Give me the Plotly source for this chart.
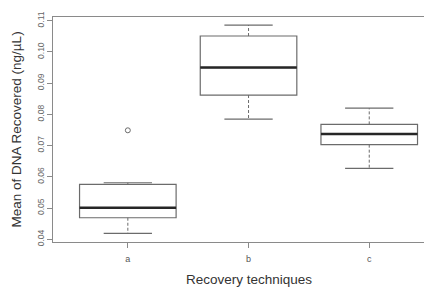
import plotly.graph_objects as go

# Data
categories = ["a", "b", "c"]
positions = [1, 2, 3]
q1 = [0.0469, 0.0862, 0.0703]
median = [0.0501, 0.0950, 0.0737]
q3 = [0.0576, 0.1051, 0.0768]
lower_whisker = [0.0419, 0.0785, 0.0627]
upper_whisker = [0.0581, 0.1086, 0.0820]
outlier_x = [1]
outlier_y = [0.0749]
y_ticks = [0.04, 0.05, 0.06, 0.07, 0.08, 0.09, 0.10, 0.11]
y_ticktext = ["0.04", "0.05", "0.06", "0.07", "0.08", "0.09", "0.10", "0.11"]

BOX_HALF = 0.4
CAP_HALF = 0.2
BOX_COLOR = "#6b6b6b"
MED_COLOR = "#262626"
FONT = "Liberation Sans, Arial, sans-serif"

fig = go.Figure()

# Boxes (whiskers drawn separately, R-style dashed)
for i, p in enumerate(positions):
    fig.add_trace(go.Box(
        x=[p], q1=[q1[i]], median=[median[i]], q3=[q3[i]],
        lowerfence=[q1[i]], upperfence=[q3[i]],
        width=2 * BOX_HALF, whiskerwidth=0,
        line=dict(color=BOX_COLOR, width=1.2),
        fillcolor="white", boxpoints=False, hoverinfo="skip",
        showlegend=False,
    ))

# Dashed whiskers
wx, wy = [], []
for i, p in enumerate(positions):
    wx += [p, p, None, p, p, None]
    wy += [q3[i], upper_whisker[i], None, q1[i], lower_whisker[i], None]
fig.add_trace(go.Scatter(x=wx, y=wy, mode="lines",
                         line=dict(color=BOX_COLOR, width=1, dash="3px,2px"),
                         hoverinfo="skip", showlegend=False))

# Whisker caps
cx, cy = [], []
for i, p in enumerate(positions):
    cx += [p - CAP_HALF, p + CAP_HALF, None, p - CAP_HALF, p + CAP_HALF, None]
    cy += [upper_whisker[i], upper_whisker[i], None, lower_whisker[i], lower_whisker[i], None]
fig.add_trace(go.Scatter(x=cx, y=cy, mode="lines",
                         line=dict(color=BOX_COLOR, width=1.2),
                         hoverinfo="skip", showlegend=False))

# Thick medians
mx, my = [], []
for i, p in enumerate(positions):
    mx += [p - BOX_HALF, p + BOX_HALF, None]
    my += [median[i], median[i], None]
fig.add_trace(go.Scatter(x=mx, y=my, mode="lines",
                         line=dict(color=MED_COLOR, width=2.6),
                         hoverinfo="skip", showlegend=False))

# Outlier
fig.add_trace(go.Scatter(x=outlier_x, y=outlier_y, mode="markers",
                         marker=dict(symbol="circle-open", size=5,
                                     color=BOX_COLOR, line=dict(width=1)),
                         hoverinfo="skip", showlegend=False))

# Figure sized to compensate for the page's default 8px body margin
fig.update_layout(
    width=424, height=279,
    margin=dict(l=45, r=0, t=9, b=45, autoexpand=False),
    paper_bgcolor="white", plot_bgcolor="white",
    font=dict(family=FONT, color="#444"),
    xaxis=dict(
        range=[0.38, 3.52], tickvals=positions, ticktext=categories,
        showgrid=False, zeroline=False, automargin=False,
        showline=True, linecolor="#8a8a8a", linewidth=1.2, mirror=True,
        ticks="outside", ticklen=5, tickcolor="#8a8a8a",
        ticklabelstandoff=3,
        tickfont=dict(size=9, color="#555"),
    ),
    yaxis=dict(
        range=[0.03913, 0.11119], tickvals=y_ticks, ticktext=y_ticktext,
        showgrid=False, zeroline=False, automargin=False,
        showline=True, linecolor="#8a8a8a", linewidth=1.2,
        ticks="outside", ticklen=5, tickcolor="#8a8a8a",
        tickangle=-90, tickfont=dict(size=8.5, color="#666"),
    ),
    annotations=[
        dict(text="Mean of DNA Recovered (ng/µL)", textangle=-90,
             xref="paper", yref="paper", x=-0.095, y=0.5,
             xanchor="center", yanchor="middle", showarrow=False,
             font=dict(size=13.5, color="#333")),
        dict(text="Recovery techniques",
             xref="x", yref="paper", x=2, y=-0.165,
             xanchor="center", yanchor="middle", showarrow=False,
             font=dict(size=13.5, color="#333")),
    ],
)

fig.write_html("out.html")
